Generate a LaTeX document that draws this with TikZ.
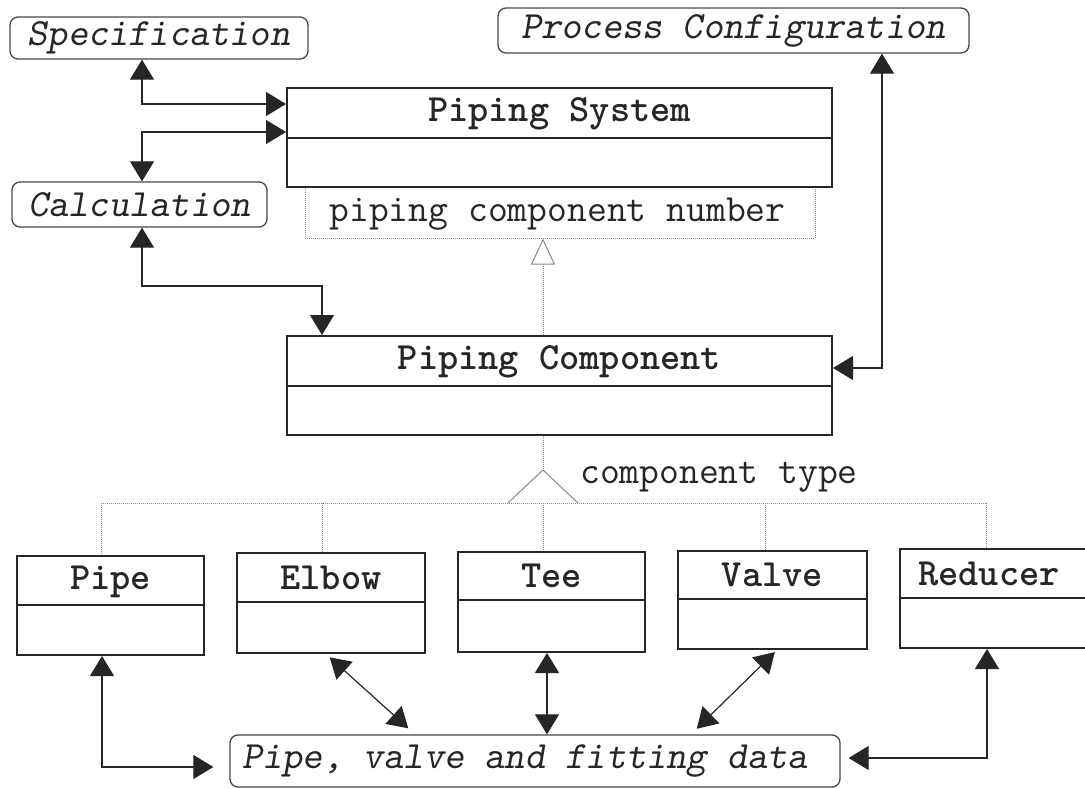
\documentclass[tikz,border=0pt]{standalone}
\usetikzlibrary{arrows.meta}
\definecolor{ink}{HTML}{262626}
\definecolor{soft}{HTML}{8A8A8A}
\tikzset{
  txt/.style={font=\ttfamily\fontsize{38.5pt}{44pt}\selectfont, text=ink, inner sep=0pt},
  itxt/.style={font=\ttfamily\slshape\fontsize{38.5pt}{44pt}\selectfont, text=ink, inner sep=0pt},
  cname/.style={font=\ttfamily\bfseries\fontsize{38.5pt}{44pt}\selectfont, text=ink, inner sep=0pt},
  cls/.style={draw=ink, line width=2pt, fill=white, inner sep=0pt},
  clsline/.style={draw=ink, line width=2pt},
  rbox/.style={itxt, draw=ink!85, line width=1.3pt, rounded corners=8pt, fill=white},
  qual/.style={txt, draw=soft, line width=1pt, densely dotted},
  tri/.tip={Triangle[length=20pt,width=24pt]},
  conn/.style={draw=ink, line width=1.2pt},
  both/.style={conn, tri-tri},
  gen/.style={draw=soft, line width=1pt, densely dotted, -{Triangle[open,length=26pt,width=24pt,fill=white]}},
  tree/.style={draw=soft, line width=1pt, densely dotted},
  treetri/.style={draw=soft, line width=1pt}
}
\begin{document}
\begin{tikzpicture}[x=1pt,y=-1pt]
\useasboundingbox (0,0) rectangle (1085,789);
\clip (0,0) rectangle (1085,789);
\fill[white] (0,0) rectangle (1085,789);

% outside boxes
\node[rbox, minimum width=298pt, minimum height=42pt] (spec) at (159,38) {Specification};
\node[rbox, minimum width=255pt, minimum height=45pt] (calc) at (139.5,204.5) {Calculation};
\node[rbox, minimum width=471pt, minimum height=45pt] (proc) at (733.5,30.5) {Process Configuration};
\node[rbox, minimum width=610pt, minimum height=52pt] (data) at (535,761) {};
\node[itxt, anchor=west] (datat) at (242,761) {Pipe, valve and fitting data};

% qualifier box and Piping System
\node[qual, minimum width=510pt, minimum height=51pt] (qual) at (560,212.5) {};
\node[txt] (qualt) at (557.5,214) {piping component number};
\node[cls, minimum width=545pt, minimum height=99pt] (ps) at (559.5,137.5) {};
\draw[clsline] (287,138) -- (832,138);
\node[cname] (pst) at (559.5,114) {Piping System};

% Piping Component
\node[cls, minimum width=545pt, minimum height=99pt] (pc) at (559.5,385.5) {};
\draw[clsline] (287,386) -- (832,386);
\node[cname] (pct) at (559.5,362) {Piping Component};

% subclasses
\node[cls, minimum width=187pt, minimum height=99pt] (pipe) at (110.5,605.5) {};
\draw[clsline] (17,605) -- (204,605);
\node[cname] (pipet) at (110.5,582) {Pipe};

\node[cls, minimum width=188pt, minimum height=100pt] (elbow) at (331,603) {};
\draw[clsline] (237,602) -- (425,602);
\node[cname] (elbowt) at (331,578) {Elbow};

\node[cls, minimum width=187pt, minimum height=100pt] (tee) at (551.5,602) {};
\draw[clsline] (458,600) -- (645,600);
\node[cname] (teet) at (551.5,576) {Tee};

\node[cls, minimum width=189pt, minimum height=98pt] (valve) at (772.5,600) {};
\draw[clsline] (678,599) -- (867,599);
\node[cname] (valvet) at (772.5,575) {Valve};

\node[cls, minimum width=190pt, minimum height=99pt] (reducer) at (995,598.5) {};
\draw[clsline] (900,598) -- (1090,598);
\node[cname] (reducert) at (989,573.5) {Reducer};

% helper coordinates
\coordinate (c1) at (142,104);
\coordinate (c2) at (142,132);
\coordinate (c3) at (142,286);
\coordinate (c4) at (322,286);
\coordinate (c5) at (882,368);
\coordinate (gx) at (543,470);
\coordinate (h1) at (101,503);
\coordinate (h2) at (322,503);
\coordinate (h3) at (543,503);
\coordinate (h4) at (765,503);
\coordinate (h5) at (986,503);
\coordinate (b1) at (102,767);
\coordinate (ea) at (326,0);
\coordinate (eb) at (415,0);
\coordinate (tx) at (547,0);
\coordinate (va) at (777,0);
\coordinate (vb) at (691,0);
\coordinate (b5) at (987,758);

% connectors top
\draw[both] (spec.south -| c1) -- (c1) -- (ps.west |- c1);
\draw[both] (calc.north -| c2) -- (c2) -- (ps.west |- c2);
\draw[both] (calc.south -| c3) -- (c3) -- (c4) -- (pc.north -| c4);
\draw[both] (proc.south -| c5) -- (c5) -- (pc.east |- c5);

% generalisation
\draw[gen] (pc.north -| gx) -- (qual.south -| gx);

% component type tree
\draw[tree] (pc.south -| gx) -- (gx);
\draw[treetri] (508,503) -- (gx) -- (578,503);
\draw[tree] (h1) -- (h5);
\draw[tree] (h1) -- (h1 |- pipe.north);
\draw[tree] (h2) -- (h2 |- elbow.north);
\draw[tree] (h3) -- (h3 |- tee.north);
\draw[tree] (h4) -- (h4 |- valve.north);
\draw[tree] (h5) -- (h5 |- reducer.north);
\node[txt, anchor=west] (ctype) at (580,477) {component type};

% connectors bottom
\draw[both, shorten >=16pt] (pipe.south -| b1) -- (b1) -- (data.west |- b1);
\draw[both, shorten <=5pt, shorten >=9pt] (elbow.south -| ea) -- (data.north -| eb);
\draw[both] (tee.south -| tx) -- (data.north -| tx);
\draw[both, shorten <=3pt, shorten >=8pt] (valve.south -| va) -- (data.north -| vb);
\draw[both, shorten >=8pt] (reducer.south -| b5) -- (b5) -- (data.east |- b5);
\end{tikzpicture}
\end{document}
